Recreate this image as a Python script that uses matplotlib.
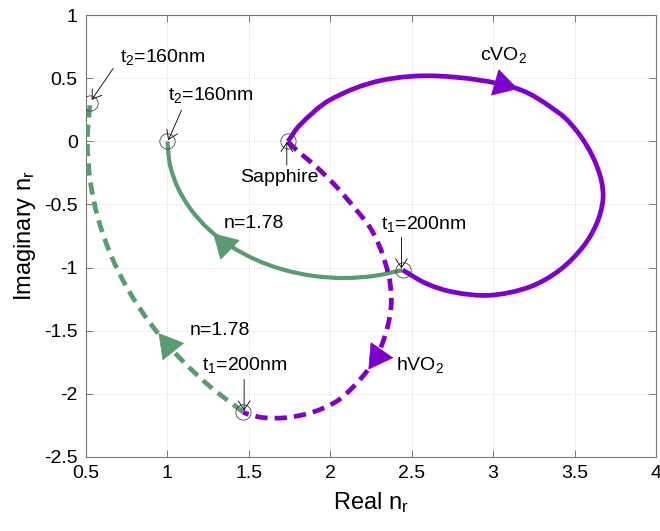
import math
import matplotlib
matplotlib.use("Agg")
import matplotlib.pyplot as plt
from matplotlib.path import Path
from matplotlib.patches import PathPatch

plt.rcParams['font.family'] = ['Liberation Sans', 'DejaVu Sans']
plt.rcParams['mathtext.default'] = 'regular'
plt.rcParams['axes.unicode_minus'] = False

# cVO2 film on sapphire: admittance locus from the bare substrate to t1
cvo2_re = [1.74, 1.813, 1.997, 2.304, 2.672, 3.142, 3.408, 3.525, 3.612, 3.664, 3.674,
           3.636, 3.551, 3.408, 3.224, 2.979, 2.753, 2.590, 2.445]
cvo2_im = [0.0, 0.129, 0.328, 0.481, 0.518, 0.421, 0.222, 0.063, -0.122, -0.307, -0.466,
           -0.651, -0.837, -1.021, -1.154, -1.220, -1.194, -1.127, -1.02]

# hVO2 film on sapphire
hvo2_re = [1.74, 1.793, 1.915, 2.038, 2.161, 2.242, 2.304, 2.345, 2.365, 2.375, 2.365,
           2.334, 2.283, 2.22, 2.14, 2.04, 1.894, 1.731, 1.588, 1.486, 1.465]
hvo2_im = [0.0, -0.069, -0.202, -0.360, -0.545, -0.678, -0.837, -0.995, -1.101, -1.260, -1.392,
           -1.551, -1.710, -1.83, -1.948, -2.06, -2.146, -2.190, -2.190, -2.159, -2.146]

# n=1.78 dielectric grown on top of the cVO2 stack (t1 -> t2)
diel_c_re = [2.445, 2.270, 2.083, 1.895, 1.712, 1.541, 1.387, 1.253, 1.145, 1.065, 1.016, 1.0]
diel_c_im = [-1.02, -1.066, -1.083, -1.066, -1.017, -0.937, -0.829, -0.696, -0.541, -0.370, -0.188, 0.0]

# n=1.78 dielectric grown on top of the hVO2 stack (t1 -> t2)
diel_h_re = [1.464, 1.250, 1.060, 0.895, 0.758, 0.650, 0.572, 0.525, 0.508, 0.525]
diel_h_im = [-2.145, -1.931, -1.696, -1.443, -1.174, -0.892, -0.600, -0.302, 0.0, 0.307]

# key points: sapphire, the two t1 points and the two t2 points
key_re = [1.74, 2.445, 1.465, 1.0, 0.525]
key_im = [0.0, -1.02, -2.146, 0.0, 0.306]

# direction arrowheads: (base_x, base_y, tip_x, tip_y)
arrows_purple = [(3.013, 0.469, 3.142, 0.421), (2.242, -1.693, 2.385, -1.709)]
arrows_green = [(1.373, -0.848, 1.291, -0.744), (1.046, -1.683, 0.923, -1.484)]

# callouts: (text, text_x, text_y, ha, tail_x, tail_y, tip_x, tip_y)
callouts = [
    ('t$_2$=160nm', 0.709, 0.632, 'left', 0.667, 0.579, 0.535, 0.33),
    ('t$_2$=160nm', 1.001, 0.328, 'left', 1.087, 0.248, 1.005, 0.01),
    ('Sapphire', 1.685, -0.321, 'center', 1.733, -0.188, 1.733, -0.005),
    ('t$_1$=200nm', 2.314, -0.698, 'left', 2.437, -0.760, 2.437, -1.006),
    ('t$_1$=200nm', 1.210, -1.815, 'left', 1.471, -1.887, 1.471, -2.133),
]
plain_labels = [
    ('n=1.78', 1.347, -0.690),
    ('n=1.78', 1.138, -1.537),
    ('cVO$_2$', 2.917, 0.645),
    ('hVO$_2$', 2.406, -1.815),
]

purple = '#7F00CC'
green = '#5A9C72'

fig = plt.figure(figsize=(6.6, 5.31), dpi=100)
ax = fig.add_axes([0.1303, 0.1399, 0.8636, 0.8313])
ax.set_xlim(0.5, 4)
ax.set_ylim(-2.5, 1)


def smooth_path(xs, ys):
    """Cubic Bezier path through the given points (chord-length Catmull-Rom tangents)."""
    pts = list(zip(xs, ys))
    disp = ax.transData.transform(pts)
    n = len(pts)
    d = [math.hypot(*(disp[i + 1] - disp[i])) for i in range(n - 1)]
    tang = []
    for i in range(n):
        if i == 0:
            tang.append(((xs[1] - xs[0]) / d[0], (ys[1] - ys[0]) / d[0]))
        elif i == n - 1:
            tang.append(((xs[-1] - xs[-2]) / d[-1], (ys[-1] - ys[-2]) / d[-1]))
        else:
            s = d[i - 1] + d[i]
            tang.append(((xs[i + 1] - xs[i - 1]) / s, (ys[i + 1] - ys[i - 1]) / s))
    verts = [pts[0]]
    codes = [Path.MOVETO]
    for i in range(n - 1):
        k = d[i] / 3.0
        verts += [(xs[i] + tang[i][0] * k, ys[i] + tang[i][1] * k),
                  (xs[i + 1] - tang[i + 1][0] * k, ys[i + 1] - tang[i + 1][1] * k),
                  pts[i + 1]]
        codes += [Path.CURVE4] * 3
    return Path(verts, codes)


dash = (0, (2.6, 1.5))
curves = [
    (diel_c_re, diel_c_im, green, 3.0, '-', 3),
    (diel_h_re, diel_h_im, green, 3.4, dash, 3),
    (cvo2_re, cvo2_im, purple, 3.4, '-', 4),
    (hvo2_re, hvo2_im, purple, 3.4, dash, 4),
]
for xs, ys, col, lw, ls, z in curves:
    ax.add_patch(PathPatch(smooth_path(xs, ys), fill=False, edgecolor=col, lw=lw,
                           linestyle=ls, capstyle='butt', zorder=z))

# filled triangular arrowheads, oriented along base -> tip in screen space
for arrs, col in ((arrows_green, green), (arrows_purple, purple)):
    for bx, by, tx, ty in arrs:
        (pbx, pby), (ptx, pty) = ax.transData.transform([(bx, by), (tx, ty)])
        ang = math.degrees(math.atan2(pty - pby, ptx - pbx))
        cx = bx + (tx - bx) / 3.0
        cy = by + (ty - by) / 3.0
        ax.plot([cx], [cy], marker=(3, 0, ang - 90), ms=22, color=col,
                mec=col, mew=0.5, linestyle='none', zorder=5)

ax.plot(key_re, key_im, 'o', mfc='none', mec='#444444', mew=0.6, ms=11, zorder=6)

for txt, tx, ty, ha, ax0, ay0, ax1, ay1 in callouts:
    ax.text(tx, ty, txt, ha=ha, va='baseline', fontsize=14, zorder=7)
    ax.annotate('', xy=(ax1, ay1), xytext=(ax0, ay0),
                arrowprops=dict(arrowstyle='->,head_length=0.45,head_width=0.3',
                                color='k', lw=0.6, mutation_scale=14,
                                shrinkA=0, shrinkB=0),
                zorder=7)
for txt, tx, ty in plain_labels:
    ax.text(tx, ty, txt, ha='left', va='baseline', fontsize=14, zorder=7)

xt = [0.5, 1, 1.5, 2, 2.5, 3, 3.5, 4]
yt = [-2.5, -2, -1.5, -1, -0.5, 0, 0.5, 1]
ax.set_xticks(xt)
ax.set_xticklabels(['0.5', '1', '1.5', '2', '2.5', '3', '3.5', '4'])
ax.set_yticks(yt)
ax.set_yticklabels(['-2.5', '-2', '-1.5', '-1', '-0.5', '0', '0.5', '1'])
ax.tick_params(direction='in', top=True, right=True, length=5, width=0.6,
               color='#666666', labelsize=14, pad=6)
for s in ax.spines.values():
    s.set_color('#777777')
    s.set_linewidth(0.8)
ax.grid(True, linestyle=':', color='#d8d8d8', lw=0.7)
ax.set_axisbelow(True)
ax.set_xlabel('Real n$_r$', fontsize=17, labelpad=6)
ax.set_ylabel('Imaginary n$_r$', fontsize=17, labelpad=4)

fig.savefig('out.png', dpi=100)
